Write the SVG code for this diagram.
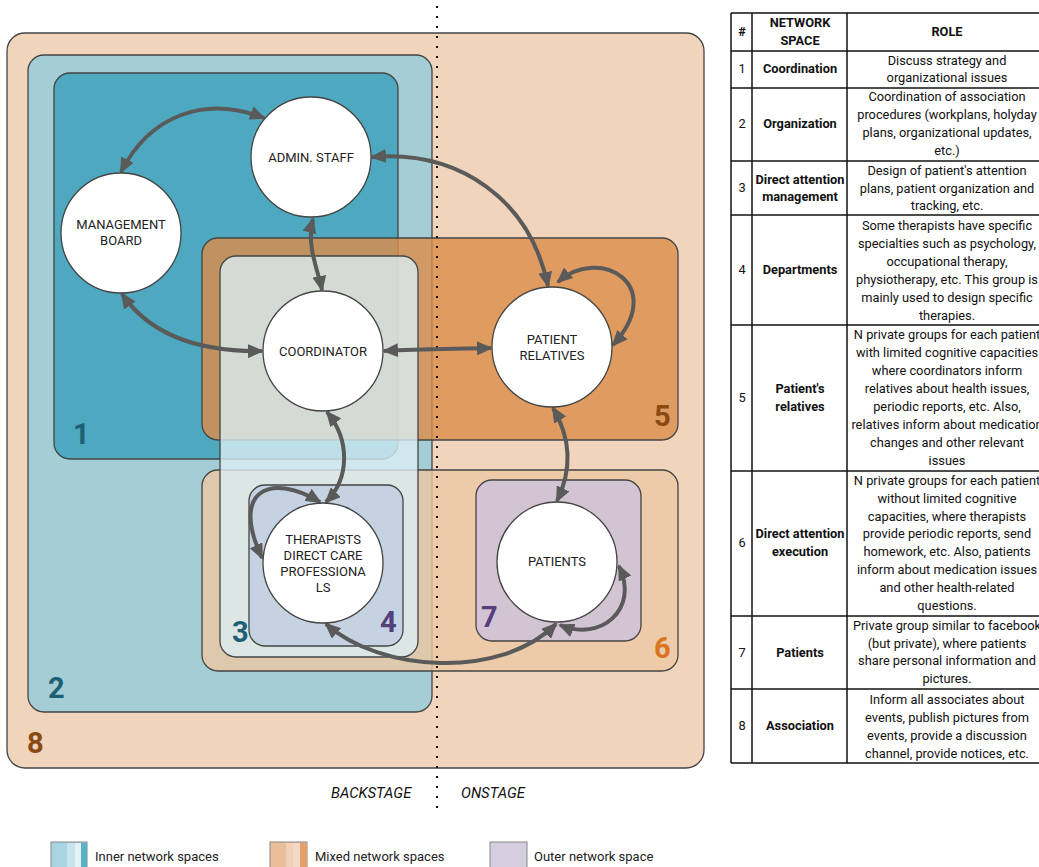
<svg xmlns="http://www.w3.org/2000/svg" width="1039" height="867" viewBox="0 0 1039 867">
<style>
.box{stroke:#444;stroke-width:1.3}
.node{fill:#fff;stroke:#444;stroke-width:1.3}
.lbl{font-family:Roboto,"Liberation Sans",sans-serif;font-size:13px;fill:#222;text-anchor:middle}
.num{font-family:Roboto,"Liberation Sans",sans-serif;font-size:29px;font-weight:bold}
.teal{fill:#1e5f73}.brown{fill:#8a4a14}.purp{fill:#54407a}.orng{fill:#d97420}
.conn{fill:none;stroke:#5a5a5a;stroke-width:4;marker-start:url(#ah);marker-end:url(#ah)}
.tb{font-family:Roboto,"Liberation Sans",sans-serif;font-size:12.8px;fill:#111;text-anchor:middle}
.tbb{font-family:Roboto,"Liberation Sans",sans-serif;font-size:12.8px;fill:#111;text-anchor:middle;font-weight:bold}
.tl{stroke:#111;stroke-width:1.5}
.stage{font-family:Roboto,"Liberation Sans",sans-serif;font-size:14.8px;font-style:italic;fill:#111}
.leg{font-family:Roboto,"Liberation Sans",sans-serif;font-size:13px;fill:#222}
</style>
<defs>
<marker id="ah" viewBox="0 0 16 14" refX="14" refY="7" markerWidth="16" markerHeight="14" markerUnits="userSpaceOnUse" orient="auto-start-reverse">
<path d="M0,0 L16,7 L0,14 z" fill="#5a5a5a"/>
</marker>
</defs>
<rect width="1039" height="867" fill="#fff"/>

<g id="spaces">
<rect id="space8" class="box" x="7" y="33" width="697" height="735" rx="18" fill="#f0d4bc"/>
<rect id="space2" class="box" x="28" y="55" width="404" height="657" rx="16" fill="#a4cdd5"/>
<rect id="space1" class="box" x="54" y="73" width="344" height="386" rx="16" fill="#4ea8bf"/>
<rect id="space5" class="box" x="202" y="238" width="476" height="202" rx="16" fill="#dc8c49" fill-opacity="0.8"/>
<rect id="space6" class="box" x="202" y="470" width="476" height="201" rx="16" fill="#ebc8a4" fill-opacity="0.82"/>
<rect id="space3" class="box" x="220" y="256" width="198" height="401" rx="16" fill="#daeef2" fill-opacity="0.8"/>
<rect id="space4" class="box" x="249" y="485" width="154" height="161" rx="16" fill="#c5d2e2"/>
<rect id="space7" class="box" x="476" y="480" width="165" height="161" rx="16" fill="#d3c4d4"/>
</g>

<line id="divider" x1="437" y1="6" x2="437" y2="816" stroke="#111" stroke-width="2" stroke-dasharray="2 8"/>

<g id="numbers">
<text class="num teal" x="73" y="444">1</text>
<text class="num teal" x="48" y="698">2</text>
<text class="num teal" x="232" y="642">3</text>
<text class="num purp" x="380" y="632">4</text>
<text class="num brown" x="654" y="426">5</text>
<text class="num orng" x="654" y="658">6</text>
<text class="num purp" x="481" y="627">7</text>
<text class="num brown" x="27" y="753">8</text>
</g>

<g id="connectors">
<path class="conn" d="M121 172 C150 115,205 95,264 118"/>
<path class="conn" d="M313 219 C306 245,318 270,322 290"/>
<path class="conn" d="M372 157 C460 150,530 200,548 286"/>
<path class="conn" d="M122 294 C150 335,200 352,262 351"/>
<path class="conn" d="M384 351 C420 349,455 349,491 348"/>
<path class="conn" d="M327 412 C350 440,350 478,326 502"/>
<path class="conn" d="M320 502 C270 472,230 490,262 558"/>
<path class="conn" d="M326 624 C380 672,500 680,556 624"/>
<path class="conn" d="M553 408 C572 440,572 470,557 501"/>
<path class="conn" d="M558 282 C600 245,668 285,613 345"/>
<path class="conn" d="M560 625 C600 642,640 610,619 566"/>
</g>

<g id="admin">
<circle class="node" cx="311" cy="157" r="60"/>
<text class="lbl" x="311" y="162">ADMIN. STAFF</text>
</g>
<g id="management">
<circle class="node" cx="121" cy="233" r="60"/>
<text class="lbl" x="121" y="229">MANAGEMENT</text>
<text class="lbl" x="121" y="245">BOARD</text>
</g>
<g id="coordinator">
<circle class="node" cx="323" cy="351" r="60"/>
<text class="lbl" x="323" y="356">COORDINATOR</text>
</g>
<g id="relatives">
<circle class="node" cx="552" cy="347" r="60"/>
<text class="lbl" x="552" y="344">PATIENT</text>
<text class="lbl" x="552" y="360">RELATIVES</text>
</g>
<g id="therapists">
<circle class="node" cx="323" cy="563" r="60"/>
<text class="lbl" x="323" y="544">THERAPISTS</text>
<text class="lbl" x="323" y="560">DIRECT CARE</text>
<text class="lbl" x="323" y="576">PROFESSIONA</text>
<text class="lbl" x="323" y="592">LS</text>
</g>
<g id="patients">
<circle class="node" cx="557" cy="562" r="60"/>
<text class="lbl" x="557" y="566">PATIENTS</text>
</g>

<g id="stage-labels">
<text class="stage" x="331" y="798">BACKSTAGE</text>
<text class="stage" x="461" y="798">ONSTAGE</text>
</g>

<g id="legend">
<rect x="51" y="842" width="36" height="30" fill="#a8d5e1" stroke="#888" stroke-width="1"/>
<rect x="67" y="843" width="8" height="29" fill="#c6e4ec"/>
<rect x="75" y="843" width="6" height="29" fill="#e4f2f5"/>
<rect x="81" y="843" width="6" height="29" fill="#5ab2c6"/>
<text class="leg" x="95" y="861">Inner network spaces</text>
<rect x="270" y="842" width="37" height="30" fill="#ebbd98" stroke="#888" stroke-width="1"/>
<rect x="286" y="843" width="7" height="29" fill="#f0d0b8"/>
<rect x="293" y="843" width="7" height="29" fill="#f3d8c5"/>
<rect x="300" y="843" width="7" height="29" fill="#e3a06a"/>
<text class="leg" x="315" y="861">Mixed network spaces</text>
<rect x="490" y="842" width="37" height="30" fill="#d5cde0" stroke="#888" stroke-width="1"/>
<text class="leg" x="534" y="861">Outer network space</text>
</g>

<g id="table">
<line class="tl" x1="731" y1="13" x2="1047" y2="13"/>
<line class="tl" x1="731" y1="51" x2="1047" y2="51"/>
<line class="tl" x1="731" y1="88" x2="1047" y2="88"/>
<line class="tl" x1="731" y1="161" x2="1047" y2="161"/>
<line class="tl" x1="731" y1="215" x2="1047" y2="215"/>
<line class="tl" x1="731" y1="325" x2="1047" y2="325"/>
<line class="tl" x1="731" y1="471" x2="1047" y2="471"/>
<line class="tl" x1="731" y1="616" x2="1047" y2="616"/>
<line class="tl" x1="731" y1="689" x2="1047" y2="689"/>
<line class="tl" x1="731" y1="763" x2="1047" y2="763"/>
<line class="tl" x1="731" y1="13" x2="731" y2="763"/>
<line class="tl" x1="752" y1="13" x2="752" y2="763"/>
<line class="tl" x1="847" y1="13" x2="847" y2="763"/>

<text class="tbb" x="742" y="36">#</text>
<text class="tbb" x="800" y="27">NETWORK</text>
<text class="tbb" x="800" y="45">SPACE</text>
<text class="tbb" x="947" y="36">ROLE</text>

<text class="tb" x="742" y="73">1</text>
<text class="tbb" x="800" y="73">Coordination</text>
<text class="tb" x="947" y="65">Discuss strategy and</text>
<text class="tb" x="947" y="82">organizational issues</text>

<text class="tb" x="742" y="128">2</text>
<text class="tbb" x="800" y="128">Organization</text>
<text class="tb" x="947" y="101">Coordination of association</text>
<text class="tb" x="947" y="119">procedures (workplans, holyday</text>
<text class="tb" x="947" y="137">plans, organizational updates,</text>
<text class="tb" x="947" y="155">etc.)</text>

<text class="tb" x="742" y="192">3</text>
<text class="tbb" x="800" y="184">Direct attention</text>
<text class="tbb" x="800" y="201">management</text>
<text class="tb" x="947" y="175">Design of patient's attention</text>
<text class="tb" x="947" y="193">plans, patient organization and</text>
<text class="tb" x="947" y="210">tracking, etc.</text>

<text class="tb" x="742" y="274">4</text>
<text class="tbb" x="800" y="274">Departments</text>
<text class="tb" x="947" y="230">Some therapists have specific</text>
<text class="tb" x="947" y="248">specialties such as psychology,</text>
<text class="tb" x="947" y="266">occupational therapy,</text>
<text class="tb" x="947" y="284">physiotherapy, etc. This group is</text>
<text class="tb" x="947" y="302">mainly used to design specific</text>
<text class="tb" x="947" y="320">therapies.</text>

<text class="tb" x="742" y="402">5</text>
<text class="tbb" x="800" y="393">Patient's</text>
<text class="tbb" x="800" y="411">relatives</text>
<text class="tb" x="947" y="339">N private groups for each patient</text>
<text class="tb" x="947" y="357">with limited cognitive capacities</text>
<text class="tb" x="947" y="375">where coordinators inform</text>
<text class="tb" x="947" y="393">relatives about health issues,</text>
<text class="tb" x="947" y="411">periodic reports, etc. Also,</text>
<text class="tb" x="947" y="429">relatives inform about medication</text>
<text class="tb" x="947" y="447">changes and other relevant</text>
<text class="tb" x="947" y="465">issues</text>

<text class="tb" x="742" y="547">6</text>
<text class="tbb" x="800" y="538">Direct attention</text>
<text class="tbb" x="800" y="556">execution</text>
<text class="tb" x="947" y="485">N private groups for each patient</text>
<text class="tb" x="947" y="503">without limited cognitive</text>
<text class="tb" x="947" y="521">capacities, where therapists</text>
<text class="tb" x="947" y="538">provide periodic reports, send</text>
<text class="tb" x="947" y="556">homework, etc. Also, patients</text>
<text class="tb" x="947" y="574">inform about medication issues</text>
<text class="tb" x="947" y="592">and other health-related</text>
<text class="tb" x="947" y="610">questions.</text>

<text class="tb" x="742" y="657">7</text>
<text class="tbb" x="800" y="657">Patients</text>
<text class="tb" x="947" y="630">Private group similar to facebook</text>
<text class="tb" x="947" y="648">(but private), where patients</text>
<text class="tb" x="947" y="665">share personal information and</text>
<text class="tb" x="947" y="683">pictures.</text>

<text class="tb" x="742" y="730">8</text>
<text class="tbb" x="800" y="730">Association</text>
<text class="tb" x="947" y="704">Inform all associates about</text>
<text class="tb" x="947" y="722">events, publish pictures from</text>
<text class="tb" x="947" y="740">events, provide a discussion</text>
<text class="tb" x="947" y="758">channel, provide notices, etc.</text>
</g>
</svg>
